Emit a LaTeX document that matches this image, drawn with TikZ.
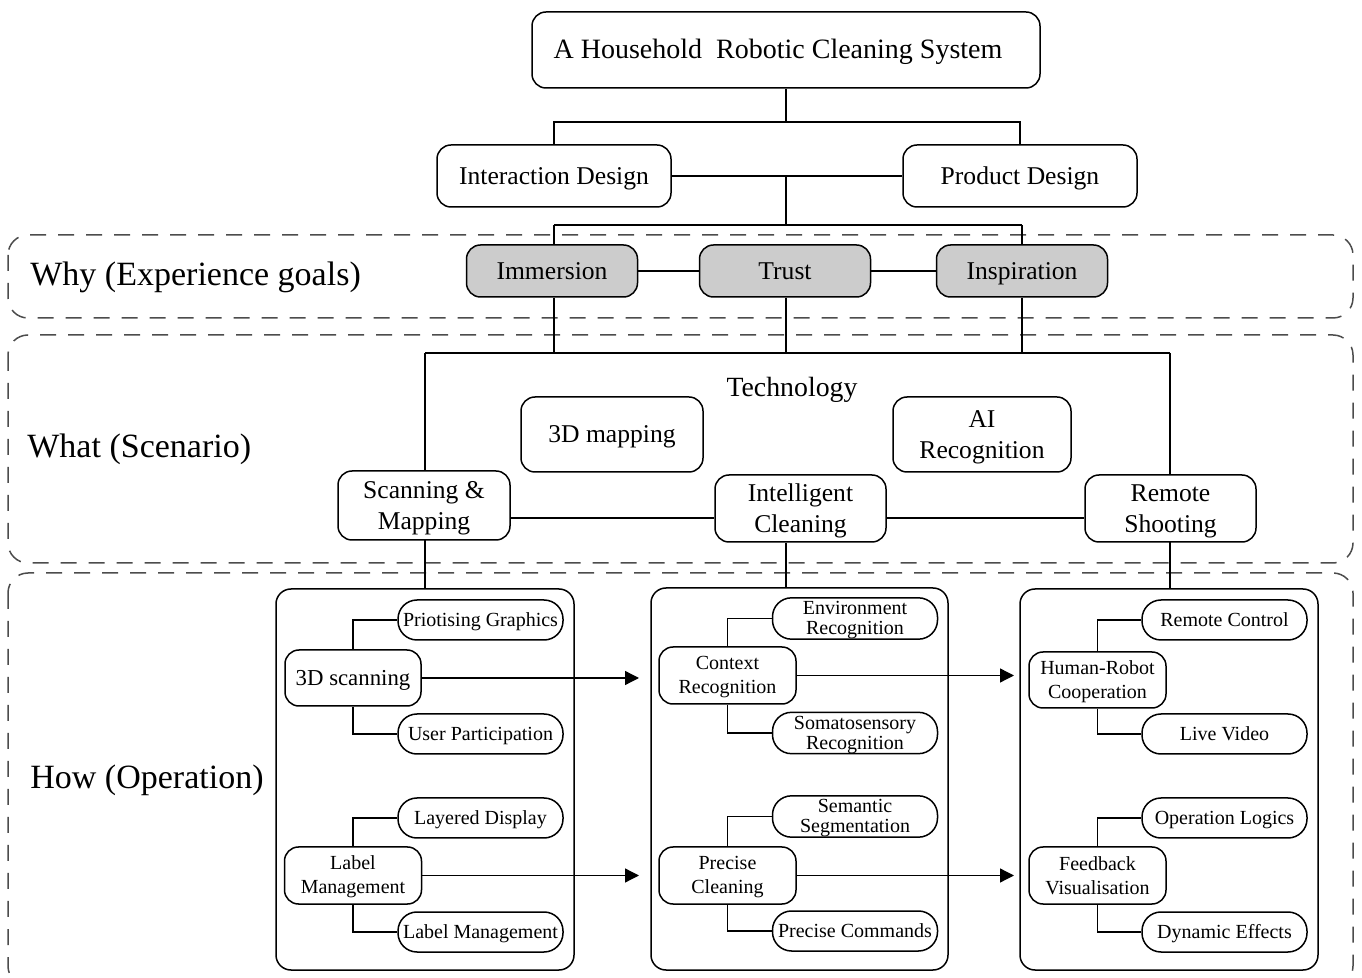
\documentclass[tikz,border=0pt]{standalone}
\usepackage{fontspec}
\setmainfont{Liberation Serif}
\usetikzlibrary{arrows.meta,calc}
\newcommand\tstrut{\rule[-0.2em]{0pt}{1.05em}}
\tikzset{
  every node/.style={align=center, inner sep=0pt, execute at begin node={\tstrut}},
  bx/.style={draw, line width=0.75pt, rounded corners=7pt, align=center},
  sz/.style 2 args={minimum width=#1*0.5pt, minimum height=#2*0.5pt},
  gbox/.style={bx, fill=gray!40},
  midfont/.style={font=\fontsize{12.8}{15.5}\selectfont},
  pill/.style={bx, rounded corners=9.5pt, sz={165}{40}, font=\fontsize{10}{10}\selectfont},
  lnode/.style={bx, rounded corners=7pt, sz={137}{57}, font=\fontsize{10}{12}\selectfont},
  outer/.style={bx, rounded corners=7.5pt},
  conn/.style={line width=0.65pt},
  arr/.style={conn, -{Triangle[length=7pt,width=7pt]}},
  zone/.style={draw=black!70, line width=0.75pt, dash pattern=on 8pt off 6pt, rounded corners=10pt},
  sect/.style={anchor=west, font=\fontsize{17}{20}\selectfont}
}
\begin{document}
\begin{tikzpicture}[x=0.5pt,y=-0.5pt]
\useasboundingbox (0,0) rectangle (1362,978);

% zones
\draw[zone] (8,235) rectangle (1353,318);
\draw[zone] (8,335) rectangle (1353,563);
\draw[zone] (8,573) rectangle (1353,986);

\node[sect] (why) at (30,275) {Why (Experience goals)};
\node[sect] (what) at (27,447) {What (Scenario)};
\node[sect] (how) at (30,778) {How (Operation)};

% top
\node[bx, sz={508}{76}, font=\fontsize{14}{16}\selectfont] (title) at (786,50) {A Household~ Robotic Cleaning System\hspace{8pt}};
\node[bx, sz={234}{62}, midfont] (inter) at (554,176) {Interaction Design};
\node[bx, sz={234}{62}, midfont] (prod) at (1020,176) {Product Design};

\node[gbox, sz={171}{52}, midfont] (imm) at (552,271) {Immersion};
\node[gbox, sz={171}{52}, midfont] (trust) at (785,271) {Trust};
\node[gbox, sz={171}{52}, midfont] (insp) at (1022,271) {Inspiration};

% what
\node[font=\fontsize{13.9}{16}\selectfont] (tech) at (792,388) {Technology};
\node[bx, sz={182}{75}, midfont] (map3d) at (612,434.5) {3D mapping};
\node[bx, sz={178}{75}, midfont] (airec) at (982,434.5) {\tstrut AI\\Recognition};
\node[bx, sz={172}{69}, midfont] (scanmap) at (424,505.5) {\tstrut Scanning \&\\Mapping};
\node[bx, sz={171}{67}, midfont] (intel) at (800.5,508.5) {\tstrut Intelligent\\Cleaning};
\node[bx, sz={171}{67}, midfont] (remote) at (1170.5,508.5) {\tstrut Remote\\Shooting};

% how outer boxes
\node[outer, sz={298}{381}] (box1) at (425,779.5) {};
\node[outer, sz={297}{382}] (box2) at (799.5,779) {};
\node[outer, sz={298}{381}] (box3) at (1169,779.5) {};

% box1
\node[bx, rounded corners=7pt, sz={136}{56}, font=\fontsize{11.4}{13}\selectfont] (scan3d) at (353,678) {3D scanning};
\node[pill] (prio) at (480.5,620) {Priotising Graphics};
\node[pill] (upart) at (480.5,734) {User Participation};
\node[lnode] (labm) at (353,875.5) {\tstrut Label\\Management};
\node[pill] (layer) at (480.5,818) {Layered Display};
\node[pill] (labm2) at (480.5,932) {Label Management};

% box2
\node[lnode] (ctx) at (727.5,675.5) {\tstrut Context\\Recognition};
\node[pill] (env) at (855,618.5) {\tstrut Environment\\Recognition};
\node[pill] (soma) at (855,733) {\tstrut Somatosensory\\Recognition};
\node[lnode] (pclean) at (727.5,875.5) {\tstrut Precise\\Cleaning};
\node[pill] (sem) at (855,816.5) {\tstrut Semantic\\Segmentation};
\node[pill] (pcmd) at (855,931) {Precise Commands};

% box3
\node[lnode, sz={137}{56}] (hrc) at (1097.5,680) {\tstrut Human-Robot\\Cooperation};
\node[pill] (rc) at (1224.5,620) {Remote Control};
\node[pill] (lv) at (1224.5,734) {Live Video};
\node[lnode] (fbv) at (1097.5,875.5) {\tstrut Feedback\\Visualisation};
\node[pill] (opl) at (1224.5,818) {Operation Logics};
\node[pill] (dyn) at (1224.5,932) {Dynamic Effects};

% coordinates
\coordinate (j1) at (786,122);
\coordinate (j2) at (786,176);
\coordinate (j3) at (786,225);
\coordinate (j4) at (786,353);
\coordinate (hl) at (0,518);
\coordinate (a1) at (639,0);
\coordinate (a2) at (1014,0);

% connectors top
\draw[conn] (title.south) -- (j1);
\draw[conn] (inter.north) -- (inter.north |- j1) -- (prod.north |- j1) -- (prod.north);
\draw[conn] (inter) -- (prod);
\draw[conn] (j2) -- (j3);
\draw[conn] (inter.south |- j3) -- (insp.north |- j3);
\draw[conn] (inter.south |- j3) -- (inter.south |- imm.north);
\draw[conn] (insp.north |- j3) -- (insp.north);
\draw[conn] (imm) -- (trust);
\draw[conn] (trust) -- (insp);

% to what
\draw[conn] (inter.south |- imm.south) -- (inter.south |- j4);
\draw[conn] (j2 |- trust.south) -- (j4);
\draw[conn] (insp.south) -- (insp.south |- j4);
\draw[conn] (425,353) -- (1170,353);
\draw[conn] (425,353) -- (425,471);
\draw[conn] (1170,353) -- (1170,475);
\draw[conn] (scanmap.east |- hl) -- (intel.west |- hl);
\draw[conn] (intel.east |- hl) -- (remote.west |- hl);

% to how
\draw[conn] (425,540) -- (425,589);
\draw[conn] (j2 |- intel.south) -- (j2 |- box2.north);
\draw[conn] (1170,542) -- (1170,589);

% inside boxes
\draw[conn] (scan3d.north) |- (prio.west);
\draw[conn] (scan3d.south) |- (upart.west);
\draw[conn] (labm.north) |- (layer.west);
\draw[conn] (labm.south) |- (labm2.west);
\draw[conn] (ctx.north) |- (env.west);
\draw[conn] (ctx.south) |- (soma.west);
\draw[conn] (pclean.north) |- (sem.west);
\draw[conn] (pclean.south) |- (pcmd.west);
\draw[conn] (hrc.north) |- (rc.west);
\draw[conn] (hrc.south) |- (lv.west);
\draw[conn] (fbv.north) |- (opl.west);
\draw[conn] (fbv.south) |- (dyn.west);

% arrows
\draw[arr] (scan3d.east) -- (scan3d.east -| a1);
\draw[arr] (labm.east) -- (labm.east -| a1);
\draw[arr] (ctx.east) -- (ctx.east -| a2);
\draw[arr] (pclean.east) -- (pclean.east -| a2);
\end{tikzpicture}
\end{document}
